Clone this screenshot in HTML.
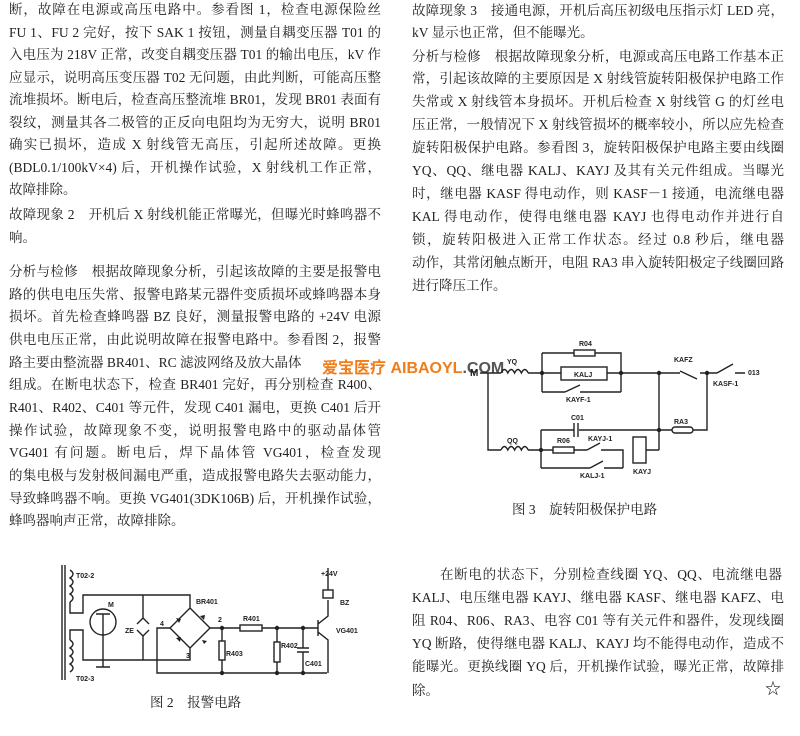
<!DOCTYPE html>
<html><head><meta charset="utf-8"><style>
body{margin:0;width:800px;height:736px;background:#fff;position:relative;overflow:hidden;font-family:"Liberation Serif","Noto Serif CJK SC",serif;color:#222;font-size:13.5px}
.l{position:absolute;white-space:nowrap;line-height:16px;height:16px}
.j{text-align:justify;text-align-last:justify;white-space:normal;overflow:hidden}
.L{left:9px;width:372px}
.R{left:412px;width:372px}
svg{position:absolute;left:0;top:0}
svg text{font-family:"Liberation Sans",sans-serif;font-weight:bold;fill:#222}
</style></head><body>
<div class="l j L" style="top:2px">断，故障在电源或高压电路中。参看图 1，检查电源保险丝</div>
<div class="l j L" style="top:25px">FU 1、FU 2 完好，按下 SAK 1 按钮，测量自耦变压器 T01 的输</div>
<div class="l j L" style="top:47px">入电压为 218V 正常，改变自耦变压器 T01 的输出电压，kV 作相</div>
<div class="l j L" style="top:70px">应显示，说明高压变压器 T02 无问题，由此判断，可能高压整</div>
<div class="l j L" style="top:92px">流堆损坏。断电后，检查高压整流堆 BR01，发现 BR01 表面有</div>
<div class="l j L" style="top:115px">裂纹，测量其各二极管的正反向电阻均为无穷大，说明 BR01</div>
<div class="l j L" style="top:137px">确实已损坏，造成 X 射线管无高压，引起所述故障。更换 BR01</div>
<div class="l j L" style="top:160px">(BDL0.1/100kV×4) 后，开机操作试验，X 射线机工作正常，</div>
<div class="l L" style="top:182px">故障排除。</div>
<div class="l j L" style="top:207px">故障现象 2　开机后 X 射线机能正常曝光，但曝光时蜂鸣器不</div>
<div class="l L" style="top:230px">响。</div>
<div class="l j L" style="top:264px">分析与检修　根据故障现象分析，引起该故障的主要是报警电</div>
<div class="l j L" style="top:287px">路的供电电压失常、报警电路某元器件变质损坏或蜂鸣器本身</div>
<div class="l j L" style="top:309px">损坏。首先检查蜂鸣器 BZ 良好，测量报警电路的 +24V 电源</div>
<div class="l j L" style="top:332px">供电电压正常，由此说明故障在报警电路中。参看图 2，报警电</div>
<div class="l L" style="top:355px">路主要由整流器 BR401、RC 滤波网络及放大晶体</div>
<div class="l j L" style="top:377px">组成。在断电状态下，检查 BR401 完好，再分别检查 R400、</div>
<div class="l j L" style="top:400px">R401、R402、C401 等元件，发现 C401 漏电，更换 C401 后开机</div>
<div class="l j L" style="top:423px">操作试验，故障现象不变，说明报警电路中的驱动晶体管</div>
<div class="l j L" style="top:445px">VG401 有问题。断电后，焊下晶体管 VG401，检查发现 VG401</div>
<div class="l j L" style="top:468px">的集电极与发射极间漏电严重，造成报警电路失去驱动能力，</div>
<div class="l j L" style="top:491px">导致蜂鸣器不响。更换 VG401(3DK106B) 后，开机操作试验，</div>
<div class="l L" style="top:513px">蜂鸣器响声正常，故障排除。</div>

<div class="l j R" style="top:3px">故障现象 3　接通电源，开机后高压初级电压指示灯 LED 亮，</div>
<div class="l R" style="top:25px">kV 显示也正常，但不能曝光。</div>
<div class="l j R" style="top:49px">分析与检修　根据故障现象分析，电源或高压电路工作基本正</div>
<div class="l j R" style="top:71px">常，引起该故障的主要原因是 X 射线管旋转阳极保护电路工作</div>
<div class="l j R" style="top:94px">失常或 X 射线管本身损坏。开机后检查 X 射线管 G 的灯丝电</div>
<div class="l j R" style="top:117px">压正常，一般情况下 X 射线管损坏的概率较小，所以应先检查</div>
<div class="l j R" style="top:140px">旋转阳极保护电路。参看图 3，旋转阳极保护电路主要由线圈</div>
<div class="l j R" style="top:163px">YQ、QQ、继电器 KALJ、KAYJ 及其有关元件组成。当曝光</div>
<div class="l j R" style="top:186px">时，继电器 KASF 得电动作，则 KASF－1 接通，电流继电器</div>
<div class="l j R" style="top:209px">KAL 得电动作，使得电继电器 KAYJ 也得电动作并进行自</div>
<div class="l j R" style="top:232px">锁，旋转阳极进入正常工作状态。经过 0.8 秒后，继电器 KAFZ</div>
<div class="l j R" style="top:255px">动作，其常闭触点断开，电阻 RA3 串入旋转阳极定子线圈回路</div>
<div class="l R" style="top:278px">进行降压工作。</div>

<div class="l" style="top:502px;left:512px">图 3　旋转阳极保护电路</div>

<div class="l j" style="top:567px;left:440px;width:342px">在断电的状态下，分别检查线圈 YQ、QQ、电流继电器</div>
<div class="l j R" style="top:590px">KALJ、电压继电器 KAYJ、继电器 KASF、继电器 KAFZ、电</div>
<div class="l j R" style="top:613px">阻 R04、R06、RA3、电容 C01 等有关元件和器件，发现线圈</div>
<div class="l j R" style="top:636px">YQ 断路，使得继电器 KALJ、KAYJ 均不能得电动作，造成不</div>
<div class="l j R" style="top:659px">能曝光。更换线圈 YQ 后，开机操作试验，曝光正常，故障排</div>
<div class="l R" style="top:683px">除。</div>
<div class="l" style="top:682px;left:765px;font-size:16px">☆</div>

<div class="l" style="top:695px;left:150px">图 2　报警电路</div>

<div class="l" style="top:360px;left:322px;font-family:'Liberation Sans','Noto Sans CJK SC',sans-serif;font-weight:bold;color:#f07d1a;font-size:16px;height:18px;line-height:18px">爱宝医疗 AIBAOYL<span style="color:#555">.COM</span></div>

<svg width="800" height="736" viewBox="0 0 800 736" fill="none" stroke="#222" stroke-width="1.4">
<g>
<path d="M480 373H501M528 373H542M542 353V392M542 353H574M595 353H621V392M542 373H561M607 373H621M542 392H565M580 392H621M621 373H680M700 373H717M735 373H745"/>
<path d="M565 392L580 385M680 371L697 379M717 373L733 364"/>
<path d="M501 373q3.4 -7 6.8 0q3.4 -7 6.8 0q3.4 -7 6.8 0q3.4 -7 6.8 0"/>
<rect x="574" y="350" width="21" height="6"/>
<rect x="561" y="367" width="46" height="13"/>
<path d="M488 373V450H501M528 450H541M541 430V468M541 430H574M579 430H672M693 430H707V373M659 373V450M646 450H659M541 450H553M574 450H587M601 450H623V468M541 468H590M604 468H623"/>
<path d="M587 450L600 443M590 468L603 461"/>
<path d="M574 423V437M578 423V437"/>
<path d="M501 450q3.4 -7 6.8 0q3.4 -7 6.8 0q3.4 -7 6.8 0q3.4 -7 6.8 0"/>
<rect x="553" y="447" width="21" height="6"/>
<rect x="672" y="427" width="21" height="6" rx="3"/>
<rect x="633" y="437" width="13" height="26"/>
<circle cx="542" cy="373" r="1.5" fill="#222"/><circle cx="621" cy="373" r="1.5" fill="#222"/><circle cx="659" cy="373" r="1.5" fill="#222"/><circle cx="707" cy="373" r="1.5" fill="#222"/><circle cx="541" cy="450" r="1.5" fill="#222"/><circle cx="659" cy="430" r="1.5" fill="#222"/>
<g stroke="none" font-size="7">
<text x="470" y="376" font-size="10">M</text>
<text x="507" y="364">YQ</text><text x="579" y="346">R04</text><text x="574" y="377">KALJ</text>
<text x="566" y="402">KAYF-1</text><text x="674" y="362">KAFZ</text><text x="713" y="386">KASF-1</text><text x="748" y="375">013</text>
<text x="571" y="420">C01</text><text x="674" y="424">RA3</text><text x="507" y="443">QQ</text><text x="557" y="443">R06</text>
<text x="588" y="441">KAYJ-1</text><text x="580" y="478">KALJ-1</text><text x="633" y="474">KAYJ</text>
</g>
</g>
<g>
<path d="M62 565V680M65 565V680"/>
<path d="M70 570q6 4 0 8q6 4 0 8q6 4 0 8q6 4 0 8M70 640q6 4 0 8q6 4 0 8q6 4 0 8q6 4 0 8"/>
<path d="M70 602V613H83V595H190V608M70 640V630H83V660H190V648M190 608L170 628L190 648L210 628Z"/>
<circle cx="103" cy="622" r="13"/>
<path d="M96 614H110M103 614V667M96 667H110"/>
<path d="M143 595V618M143 636V660M137 624L143 618L149 624M137 630L143 636L149 630"/>
<path d="M170 628H157V673H327M210 628H240M262 628H318M222 628V641M222 660V673M277 628V642M277 662V673M303 628V648M303 652V673"/>
<rect x="219" y="641" width="6" height="19"/><rect x="274" y="642" width="6" height="20"/><rect x="240" y="625" width="22" height="6"/>
<path d="M297 648H309M297 652H309"/>
<path d="M318 620V636M318 624L328 616V600M318 632L328 640V673"/>
<path d="M328 568V590"/>
<rect x="323" y="590" width="10" height="8"/>
<g fill="#222" stroke="none"><path d="M176 618l5 1-2 4zM200 616l5-1-1 5zM176 638l5-1-1 5zM202 640l5 1-3 3z"/></g>
<circle cx="222" cy="628" r="1.5" fill="#222"/><circle cx="277" cy="628" r="1.5" fill="#222"/><circle cx="303" cy="628" r="1.5" fill="#222"/><circle cx="222" cy="673" r="1.5" fill="#222"/><circle cx="277" cy="673" r="1.5" fill="#222"/><circle cx="303" cy="673" r="1.5" fill="#222"/>
<g stroke="none" font-size="7">
<text x="76" y="578">T02-2</text><text x="76" y="681">T02-3</text><text x="108" y="607">M</text><text x="125" y="633">ZE</text>
<text x="160" y="626">4</text><text x="196" y="604">BR401</text><text x="218" y="622">2</text><text x="186" y="658">3</text>
<text x="243" y="621">R401</text><text x="226" y="656">R403</text><text x="281" y="648">R402</text><text x="305" y="666">C401</text>
<text x="336" y="633">VG401</text><text x="340" y="605">BZ</text><text x="321" y="576">+24V</text>
</g>
</g>
</svg>
</body></html>
